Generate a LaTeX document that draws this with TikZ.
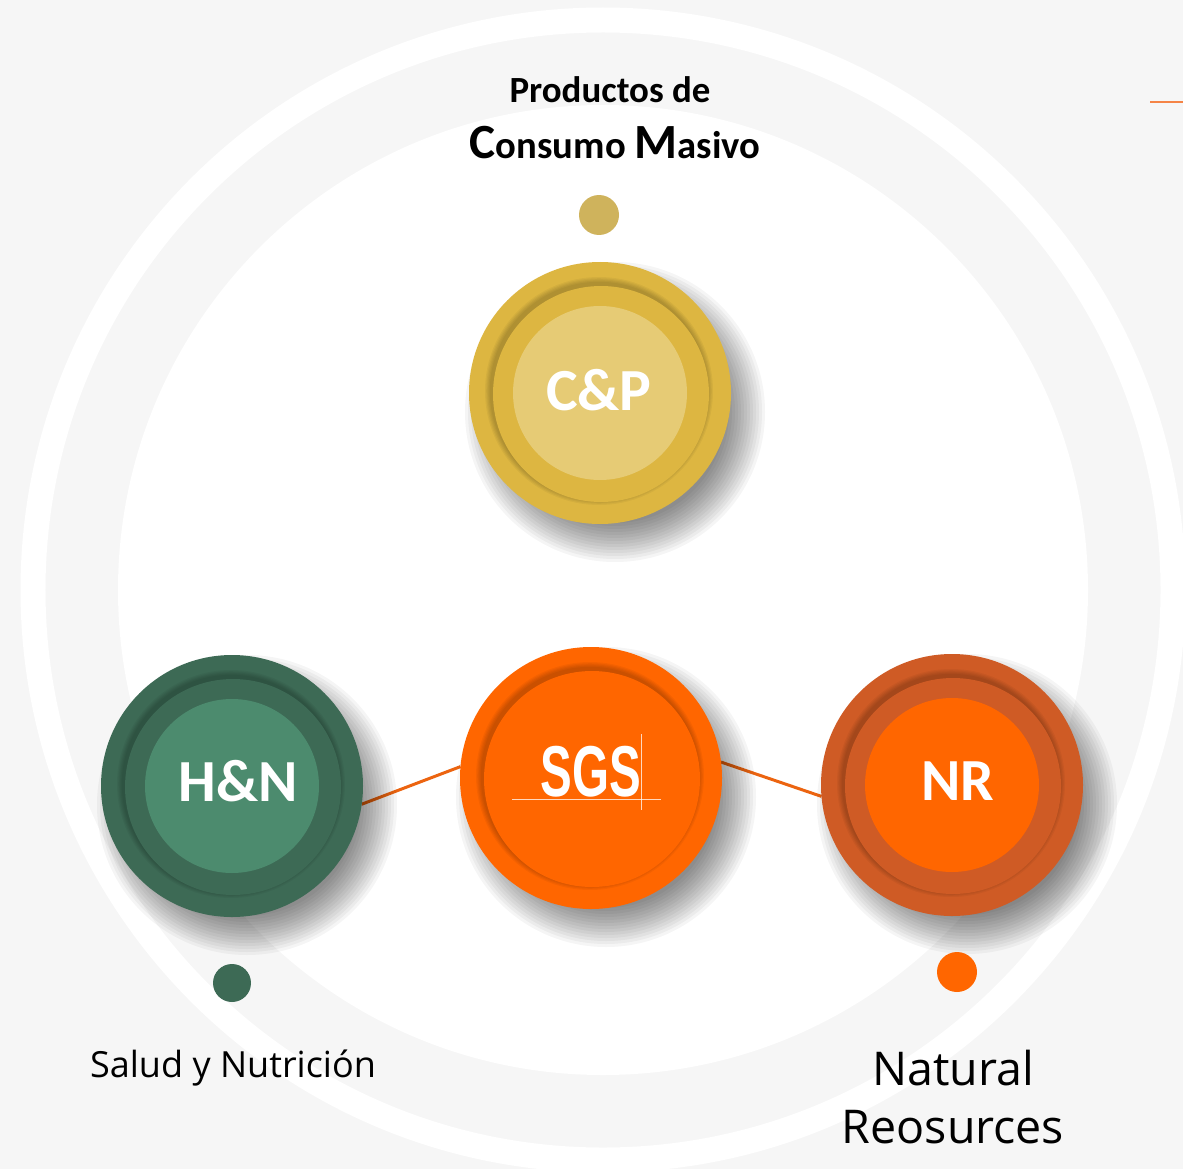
\documentclass[tikz,border=0pt]{standalone}
\usepackage{fontspec}
\usepackage{graphicx}
\usepackage{xcolor}
\usetikzlibrary{positioning,calc}
\newfontfamily\carlito{Carlito}
\newfontfamily\opensans{Open Sans}
\newfontfamily\logofont{Liberation Sans}
\definecolor{bggray}{HTML}{F6F6F6}
\definecolor{goldout}{HTML}{DDB641}
\definecolor{goldin}{HTML}{E6CB75}
\definecolor{golddot}{HTML}{CFB35C}
\definecolor{greenout}{HTML}{3D6A55}
\definecolor{greenin}{HTML}{4C8B6E}
\definecolor{rustout}{HTML}{CF5B25}
\definecolor{sgsorange}{HTML}{FF6600}
\definecolor{linkorange}{HTML}{EC6410}
\definecolor{accent}{HTML}{F58446}
\tikzset{
  every overlay node/.style={}
}

\begin{document}
\begin{tikzpicture}[x=0.02cm, y=-0.02cm,
    bigball/.style = {circle, minimum size=5.24cm, inner sep=0pt, outer sep=0pt},
    balltext/.style = {text=white, font=\carlito\bfseries\fontsize{34}{40}\selectfont},
    dot/.style = {circle, minimum size=0.8cm, inner sep=0pt, outer sep=0pt},
    link/.style = {line width=1.7pt, draw=linkorange}]
  \useasboundingbox (0,0) rectangle (1183,1169);
  \fill[bggray] (0,0) rectangle (1183,1169);
  \begin{scope}
    \clip (0,0) rectangle (1183,1169);
    \draw[white, line width=0.5cm] (603,590) circle (570);
    \fill[white] (603,590) circle (485);
  \end{scope}
  \draw[accent, line width=1.7pt] (1150,102) -- (1183,102);

  % the four balls
  \node[bigball] (cp) at (600,393) {};
  \node[bigball] (sgs) at (591,778) {};
  \node[bigball] (hn) at (232,786) {};
  \node[bigball] (nr) at (952,785) {};

  \draw[link] (hn.-8) -- (sgs.175);
  \draw[link] (sgs.7) -- (nr.-175);

  % soft shadows
  \foreach \b in {cp,sgs,hn,nr}
    \foreach \k in {0,...,13}
      \fill[black, opacity=0.04] ($(\b)+(15,19)$) circle ({150-3*\k});

  \foreach \b/\outc/\inc in {cp/goldout/goldin, hn/greenout/greenin, nr/rustout/sgsorange, sgs/sgsorange/sgsorange} {
    \fill[\outc] (\b) circle (131);
    \foreach \k in {0,...,4}
      \fill[black, opacity=0.045] ($(\b)+(-1,-2)$) circle ({114-1.2*\k});
    \fill[\outc] ($(\b)+(1,1)$) circle (108);
    \fill[\inc] (\b) circle (87);
  }

  % labels
  \node[balltext] (cplabel) at (599,390) {C\&P};
  \node[balltext] (hnlabel) at (238,781) {H\&N};
  \node[balltext] (nrlabel) at (958,781) {NR};
  \node[text=white, inner sep=0pt,
        font=\logofont\bfseries\fontsize{41}{44}\selectfont] (sgslogo) at (591,772) {\scalebox{0.66}[1]{SGS}};
  \draw[white, opacity=0.75, line width=0.6pt] ($(sgslogo.south west)+(-28,2)$) -- ($(sgslogo.south east)+(19,2)$);
  \draw[white, opacity=0.75, line width=0.6pt] ($(sgslogo.north east)+(0,-12)$) -- ($(sgslogo.south east)+(0,12)$);

  \node[dot, fill=golddot] (cpdot) at (599,215) {};
  \node[dot, fill=greenout, minimum size=0.76cm] (hndot) at (232,983) {};
  \node[dot, fill=sgsorange] (nrdot) at (957,972) {};

  \node[font=\carlito\bfseries\fontsize{21}{25}\selectfont] (prod) at (610,90) {Productos de};
  \node[font=\carlito\bfseries\fontsize{22}{26}\selectfont] (cons) at (615,143) {{\fontsize{28}{30}\selectfont C}onsumo {\fontsize{28}{30}\selectfont M}asivo};
  \node[font=\opensans\fontsize{20.5}{24}\selectfont] (hnname) at (233,1068) {Salud y Nutrición};
  \node[font=\opensans\fontsize{26.5}{33}\selectfont, align=center] (nrname) at (953,1097) {Natural\\Reosurces};
\end{tikzpicture}
\end{document}
